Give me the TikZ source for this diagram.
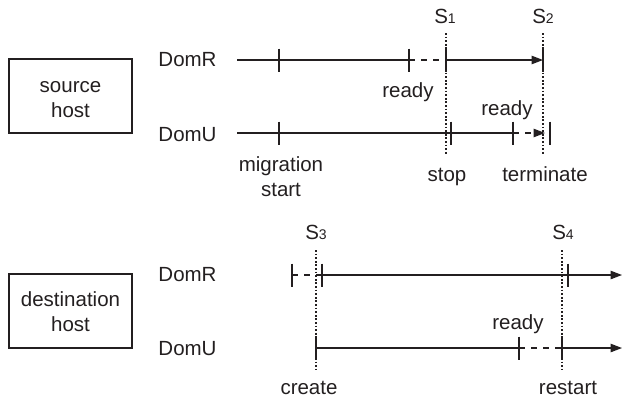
\documentclass[tikz,border=0pt]{standalone}
\usepackage{fontspec}
\setmainfont{Liberation Sans}
\usetikzlibrary{arrows.meta}
\definecolor{ink}{RGB}{35,31,32}
% small lowered index after a state name (S1, S2, ...)
\newcommand\lowidx[1]{\raisebox{-0.5pt}{\fontsize{14}{14}\selectfont #1}}

\begin{document}
\begin{tikzpicture}[x=1pt,y=-1pt,line width=1.2pt,draw=ink,
  lbl/.style={font=\fontsize{20.5}{25}\selectfont,text=ink,inner sep=0pt,anchor=base},
  hostbox/.style={draw=ink,line width=1.2pt,minimum width=123pt,minimum height=74pt,inner sep=0pt},
  waitline/.style={dash pattern=on 6pt off 6pt},
  sync/.style={line width=1.1pt,dash pattern=on 1.8pt off 1.8pt},
  tmark/.style={line width=1.2pt},
  arr/.style={-{Triangle[length=11.5pt,width=8.5pt]}},
]
\useasboundingbox (0,0) rectangle (624,405);

% hosts (multi-line labels are placed by the baseline of their last line)
\node[hostbox] (src) at (70.5,96) {};
\node[lbl,align=center] (srct) at (70.5,117) {source\\host};
\node[hostbox] (dst) at (70.5,311) {};
\node[lbl,align=center] (dstt) at (70.5,331) {destination\\host};

% domain names
\node[lbl] (srcR) at (187.5,66) {DomR};
\node[lbl] (srcU) at (187.5,141) {DomU};
\node[lbl] (dstR) at (187.5,281) {DomR};
\node[lbl] (dstU) at (187.5,355) {DomU};

% synchronisation points
\node[lbl] (S1) at (445,23) {S\lowidx{1}};
\node[lbl] (S2) at (543,23) {S\lowidx{2}};
\node[lbl] (S3) at (316,239) {S\lowidx{3}};
\node[lbl] (S4) at (563,239) {S\lowidx{4}};

% event labels
\node[lbl] (rdy1) at (408,97) {ready};
\node[lbl] (rdy2) at (507,115) {ready};
\node[lbl] (rdy3) at (518,329) {ready};
\node[lbl,align=center] (mig) at (281,196) {migration\\start};
\node[lbl] (stop) at (447,181) {stop};
\node[lbl] (term) at (545,181) {terminate};
\node[lbl] (create) at (309,394) {create};
\node[lbl] (restart) at (568,394) {restart};

% time-line points
\coordinate (rA0) at (237,60);
\coordinate (rA1) at (279,60);
\coordinate (rA2) at (409,60);
\coordinate (rA3) at (446,60);
\coordinate (rA4) at (543,60);
\coordinate (uA0) at (237,133);
\coordinate (uA1) at (279,133);
\coordinate (uA2) at (451,133);
\coordinate (uA3) at (513,133);
\coordinate (uA4) at (545,133);
\coordinate (uA5) at (550,133);
\coordinate (rB0) at (292,275);
\coordinate (rB1) at (322,275);
\coordinate (rB2) at (568,275);
\coordinate (rB3) at (622,275);
\coordinate (uB0) at (316,348);
\coordinate (uB1) at (519,348);
\coordinate (uB2) at (562,348);
\coordinate (uB3) at (622,348);

% sync lines
\coordinate (s1t) at (446,33);  \coordinate (s1b) at (446,155);
\coordinate (s2t) at (543,33);  \coordinate (s2b) at (543,155);
\coordinate (s3t) at (316,250); \coordinate (s3b) at (316,370);
\coordinate (s4t) at (562,250); \coordinate (s4b) at (562,370);
\foreach \a/\b in {s1t/s1b,s2t/s2b,s3t/s3b,s4t/s4b}
  \draw[sync] (\a) -- (\b);

% source host
\draw (rA0) -- (rA2);
\draw[waitline] (rA2) -- (rA3);
\draw[arr] (rA3) -- (rA4);
\draw (uA0) -- (uA3);
\draw[waitline,arr] (uA3) -- (uA4);

% destination host
\draw[waitline] (rB0) -- (rB1);
\draw[arr] (rB1) -- (rB3);
\draw (uB0) -- (uB1);
\draw[waitline] (uB1) -- (uB2);
\draw[arr] (uB2) -- (uB3);

% event ticks
\foreach \p in {rA1,rA2,rA3,rA4,uA1,uA2,uA3,uA5,rB0,rB1,rB2,uB0,uB1,uB2}
  \draw[tmark] ([yshift=11.5pt]\p) -- ([yshift=-11.5pt]\p);
\end{tikzpicture}
\end{document}
